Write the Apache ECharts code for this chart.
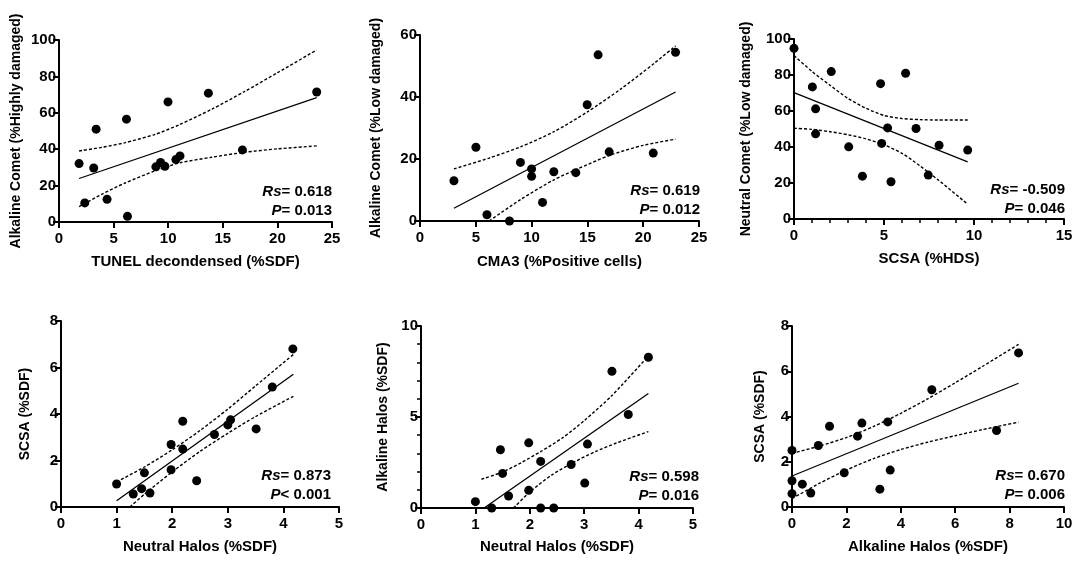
<!DOCTYPE html>
<html>
<head>
<meta charset="utf-8">
<title>Correlation plots</title>
<script src="https://cdn.jsdelivr.net/npm/echarts@6/dist/echarts.min.js"></script>
<style>
  html, body { margin: 0; padding: 0; background: #fff; }
  #main { width: 1084px; height: 569px; }
</style>
</head>
<body>
<div id="main"></div>
<script>
// panel 1: TUNEL vs Alkaline Comet (%Highly damaged)
var p1Points = [[1.84,32.1],[2.36,10.5],[3.18,29.7],[3.4,51],[4.4,12.5],[6.18,56.5],[6.27,3.1],[8.87,30.3],
                [9.3,32.7],[9.7,30.6],[9.98,66],[10.7,34.3],[11.08,36.3],[13.68,70.8],[16.8,39.6],[23.6,71.4]];
var p1Fit = [[1.84,23.9],[23.6,68.3]];
var p1Upper = [[1.84,39],[4,41.1],[6,43.5],[8.83,48.2],[11,53.4],[14,62],[17,71.7],[20,82],[23.6,94.5]];
var p1Lower = [[1.84,8.5],[4,15.5],[6,21.3],[8.83,28.2],[11,32.4],[14,35.6],[17,38.3],[20,40.2],[23.6,41.8]];

// panel 2: CMA3 vs Alkaline Comet (%Low damaged)
var p2Points = [[3.04,13],[5.01,23.8],[6,2],[8.02,0],[9,18.9],[10,16.8],[10,14.4],[10.98,6],
                [11.99,15.9],[13.96,15.6],[14.98,37.5],[15.96,53.6],[16.95,22.3],[20.9,21.9],[22.9,54.4]];
var p2Fit = [[3.04,4.1],[22.9,41.6]];
var p2Upper = [[3.04,16.8],[6.2,20.3],[9,23.9],[12,28.8],[15,35.2],[18,42.6],[21,50.9],[22.9,56.5]];
var p2Lower = [[6.2,0],[9,6.9],[12,13.3],[14,16.6],[17,21.2],[20,24.4],[22.9,26.4]];

// panel 3: SCSA (%HDS) vs Neutral Comet (%Low damaged)
var p3Points = [[0,94.8],[1.02,73.4],[1.2,61.2],[1.2,47.3],[2.07,81.9],[3.04,40.1],[3.8,23.8],[4.81,75.2],
                [4.87,42],[5.2,50.6],[5.39,20.7],[6.2,81],[6.78,50.3],[7.46,24.4],[8.06,41],[9.65,38.3]];
var p3Fit = [[0,70.2],[9.65,31.7]];
var p3Upper = [[0,90.8],[1,82],[2,74.3],[3,67],[4,61.5],[5,57.5],[6,55.8],[7,55.2],[8,55],[9.65,55]];
var p3Lower = [[0,50.4],[1,49.8],[2,48.5],[3,46.8],[4,44.5],[5,41.2],[6,36.5],[7,29.5],[8,21.8],[9.65,8.2]];

// panel 4: Neutral Halos vs SCSA (%SDF)
var p4Points = [[1,0.99],[1.3,0.56],[1.45,0.79],[1.5,1.47],[1.6,0.6],[1.98,2.69],[1.98,1.6],[2.19,3.69],
                [2.19,2.49],[2.44,1.13],[2.76,3.12],[3,3.53],[3.05,3.75],[3.51,3.36],[3.8,5.16],[4.17,6.8]];
var p4Fit = [[1,0.27],[4.18,5.71]];
var p4Upper = [[1,1.08],[1.5,1.72],[2,2.46],[2.5,3.29],[3,4.21],[3.5,5.21],[4.18,6.56]];
var p4Lower = [[1.24,0],[1.5,0.55],[2,1.51],[2.5,2.39],[3,3.17],[3.5,3.89],[4.18,4.76]];

// panel 5: Neutral Halos vs Alkaline Halos (%SDF)
var p5Points = [[1,0.35],[1.3,0],[1.46,3.2],[1.5,1.9],[1.61,0.66],[1.98,3.58],[1.98,0.97],[2.2,2.56],
                [2.2,0],[2.44,0],[2.76,2.39],[3.01,1.37],[3.06,3.51],[3.51,7.51],[3.81,5.14],[4.18,8.28]];
var p5Fit = [[1.16,0],[4.18,6.29]];
var p5Upper = [[1.11,1.58],[1.5,1.98],[1.85,2.5],[2.2,3.1],[2.6,3.85],[3,4.8],[3.5,6.15],[4.18,8.35]];
var p5Lower = [[1.7,0],[2,0.88],[2.4,1.81],[2.8,2.5],[3.2,3.09],[3.6,3.58],[4.18,4.2]];

// panel 6: Alkaline Halos vs SCSA (%SDF)
var p6Points = [[0,2.5],[0,1.16],[0,0.59],[0.38,1.01],[0.69,0.62],[0.97,2.72],[1.38,3.57],[1.92,1.51],
                [2.41,3.13],[2.57,3.71],[3.23,0.79],[3.52,3.76],[3.61,1.63],[5.14,5.18],[7.52,3.38],[8.33,6.81]];
var p6Fit = [[0,1.37],[8.33,5.47]];
var p6Upper = [[0,2.37],[1,2.69],[2,3.07],[3,3.56],[4,4.14],[5,4.79],[6,5.49],[7,6.21],[8.33,7.19]];
var p6Lower = [[0,0.37],[1,1.04],[2,1.63],[3,2.14],[4,2.54],[5,2.87],[6,3.15],[7,3.42],[8.33,3.75]];

// axis ranges [min, max, interval]
var xRanges = [[0,25,5],[0,25,5],[0,15,5],[0,5,1],[0,5,1],[0,10,2]];
var yRanges = [[0,100,20],[0,60,20],[0,100,20],[0,8,2],[0,10,5],[0,8,2]];
var xNames = ['TUNEL decondensed (%SDF)','CMA3 (%Positive cells)','SCSA (%HDS)',
              'Neutral Halos (%SDF)','Neutral Halos (%SDF)','Alkaline Halos (%SDF)'];
var yNames = ['Alkaline Comet (%Highly damaged)','Alkaline Comet (%Low damaged)','Neutral Comet (%Low damaged)',
              'SCSA (%SDF)','Alkaline Halos (%SDF)','SCSA (%SDF)'];
var rsLabels = ['0.618','0.619','-0.509','0.873','0.598','0.670'];
var pLabels = ['= 0.013','= 0.012','= 0.046','< 0.001','= 0.016','= 0.006'];

var points = [p1Points,p2Points,p3Points,p4Points,p5Points,p6Points];
var fits = [p1Fit,p2Fit,p3Fit,p4Fit,p5Fit,p6Fit];
var uppers = [p1Upper,p2Upper,p3Upper,p4Upper,p5Upper,p6Upper];
var lowers = [p1Lower,p2Lower,p3Lower,p4Lower,p5Lower,p6Lower];

var FONT = '"Liberation Sans", Arial, sans-serif';

// layout of each panel (pixels)
var grids = [
    {left: 59,  top: 40,  width: 273, height: 182},
    {left: 420, top: 35,  width: 279, height: 186},
    {left: 794, top: 39,  width: 270, height: 180},
    {left: 61,  top: 321, width: 278, height: 186},
    {left: 421, top: 326, width: 272, height: 182},
    {left: 792, top: 326, width: 272, height: 181}
];
var yNameGaps = [36, 37, 41, 29, 31, 25];
var xNameGaps = [32, 33, 32, 32, 31, 32];
var textPos = [[332,192,211],[700,191,210],[1065,190,209],[331,476,495],[699,477,496],[1065,476,495]];

function axisBase(range, isX) {
    return {
        type: 'value',
        min: range[0],
        max: range[1],
        interval: range[2],
        axisLine: {show: true, onZero: false, lineStyle: {color: '#000', width: 2}},
        axisTick: {show: true, length: 6, lineStyle: {color: '#000', width: 2}},
        axisLabel: {color: '#000', fontWeight: 'bold', fontSize: 15, fontFamily: FONT, margin: isX ? 9 : 3},
        splitLine: {show: false},
        nameLocation: 'middle',
        nameTextStyle: {color: '#000', fontWeight: 'bold', fontFamily: FONT}
    };
}

var xAxes = [], yAxes = [], series = [], graphics = [];
for (var i = 0; i < 6; i++) {
    var xa = axisBase(xRanges[i], true);
    xa.gridIndex = i;
    xa.name = xNames[i];
    xa.nameGap = xNameGaps[i];
    xa.nameTextStyle.fontSize = 15;
    if (i === 2) {
        xa.minorTick = {show: true, splitNumber: 5, length: 4, lineStyle: {color: '#000', width: 1.5}};
    }
    xAxes.push(xa);

    var ya = axisBase(yRanges[i], false);
    ya.gridIndex = i;
    ya.name = yNames[i];
    ya.nameGap = yNameGaps[i];
    ya.nameTextStyle.fontSize = 14;
    if (i === 4) {
        ya.minorTick = {show: true, splitNumber: 5, length: 4, lineStyle: {color: '#000', width: 1.5}};
    }
    yAxes.push(ya);

    series.push({
        type: 'line', xAxisIndex: i, yAxisIndex: i, data: fits[i],
        symbol: 'none', silent: true,
        lineStyle: {color: '#000', width: 1.3}
    });
    series.push({
        type: 'line', xAxisIndex: i, yAxisIndex: i, data: uppers[i],
        symbol: 'none', smooth: 0.25, silent: true,
        lineStyle: {color: '#000', width: 1.4, type: [3, 2]}
    });
    series.push({
        type: 'line', xAxisIndex: i, yAxisIndex: i, data: lowers[i],
        symbol: 'none', smooth: 0.25, silent: true,
        lineStyle: {color: '#000', width: 1.4, type: [3, 2]}
    });
    series.push({
        type: 'scatter', xAxisIndex: i, yAxisIndex: i, data: points[i],
        symbolSize: 9, clip: false, z: 5,
        itemStyle: {color: '#000', opacity: 1}
    });

    var rich = {i: {fontStyle: 'italic', fontWeight: 'bold', fontSize: 15, fontFamily: FONT, fill: '#000'}};
    graphics.push({
        type: 'text', x: textPos[i][0], y: textPos[i][1],
        style: {text: '{i|Rs}= ' + rsLabels[i], align: 'right', verticalAlign: 'middle',
                fontWeight: 'bold', fontSize: 15, fontFamily: FONT, fill: '#000', rich: rich}
    });
    graphics.push({
        type: 'text', x: textPos[i][0], y: textPos[i][2],
        style: {text: '{i|P}' + pLabels[i], align: 'right', verticalAlign: 'middle',
                fontWeight: 'bold', fontSize: 15, fontFamily: FONT, fill: '#000', rich: rich}
    });
}

var myChart = echarts.init(document.getElementById('main'));
myChart.setOption({
    backgroundColor: '#fff',
    animation: false,
    grid: grids,
    xAxis: xAxes,
    yAxis: yAxes,
    series: series,
    graphic: graphics
});
</script>
</body>
</html>
